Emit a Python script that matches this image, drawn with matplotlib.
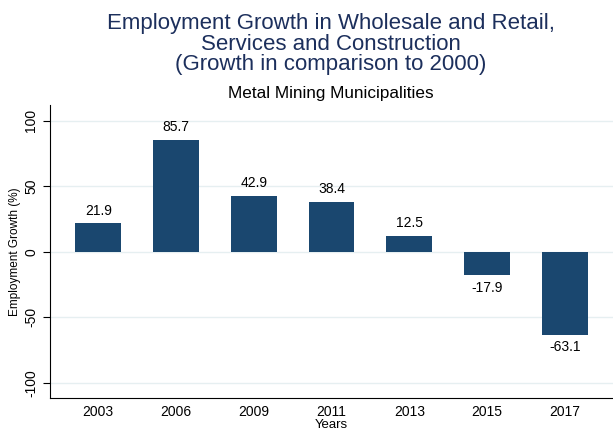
import matplotlib.pyplot as plt
import numpy as np

plt.rcParams['font.family'] = ['Liberation Sans', 'DejaVu Sans']

years = ['2003', '2006', '2009', '2011', '2013', '2015', '2017']
growth = [21.9, 85.7, 42.9, 38.4, 12.5, -17.9, -63.1]

navy = '#1a476f'

fig = plt.figure(figsize=(6.13, 4.33), dpi=100)
ax = fig.add_axes([0.0816, 0.081, 0.9184, 0.676])

x = np.arange(len(years))
ax.bar(x, growth, width=0.59, color=navy, zorder=3)

for xi, v in zip(x, growth):
    if v >= 0:
        ax.text(xi, v + 4, f'{v:.1f}', ha='center', va='bottom', fontsize=10)
    else:
        ax.text(xi, v - 4, f'{v:.1f}', ha='center', va='top', fontsize=10)

ax.set_xlim(-0.62, 6.62)
ax.set_ylim(-111.5, 112)
ax.set_xticks(x)
ax.set_xticklabels(years, fontsize=10)
ax.set_yticks([-100, -50, 0, 50, 100])
ax.set_yticklabels(['-100', '-50', '0', '50', '100'], rotation=90, va='center', fontsize=10)
ax.tick_params(axis='x', length=0, pad=5)
ax.tick_params(axis='y', length=5, width=0.8)
ax.grid(axis='y', color='#e6eff1', linewidth=1, zorder=0)
for s in ['top', 'right']:
    ax.spines[s].set_visible(False)
ax.set_xlabel('Years', fontsize=9.5, labelpad=0)
ax.set_ylabel('Employment Growth (%)', fontsize=8.5, labelpad=2)

fig.text(0.54, 0.898, 'Employment Growth in Wholesale and Retail,\nServices and Construction\n(Growth in comparison to 2000)',
         ha='center', va='center', fontsize=16, color='#1c2f5c', linespacing=0.95)
fig.text(0.54, 0.785, 'Metal Mining Municipalities', ha='center', va='center', fontsize=12.3)

fig.savefig('out.png', dpi=100)
